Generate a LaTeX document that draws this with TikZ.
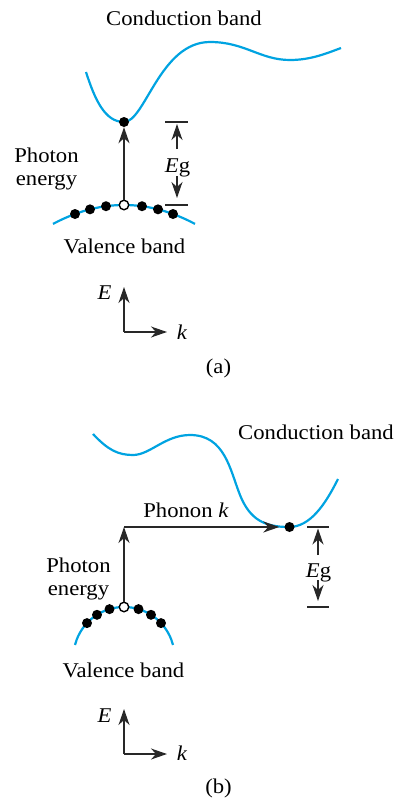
\documentclass[tikz,border=0pt]{standalone}
\usepackage{fontspec}
\setmainfont{Liberation Serif}[FakeStretch=1.08]
\usetikzlibrary{arrows.meta}
\definecolor{bandblue}{RGB}{0,163,225}
\definecolor{ink}{RGB}{40,40,40}
\begin{document}
\begin{tikzpicture}[x=1pt,y=-1pt,
  band/.style={bandblue,line width=2.2pt},
  arr/.style={ink,line width=1.5pt,-{Stealth[length=16pt,width=11pt,inset=5pt]}},
  bar/.style={ink,line width=1.5pt},
  lbl/.style={font=\fontsize{21}{23}\selectfont,inner sep=0pt,text=black},
  elec/.style={circle,fill=black,inner sep=0pt,minimum size=10pt},
  hole/.style={circle,draw=black,fill=white,line width=1.4pt,inner sep=0pt,minimum size=9.5pt}]
\useasboundingbox (0,0) rectangle (396,800);

% ---------------- panel (a) ----------------
\node[lbl,anchor=base] (cba) at (184,26) {Conduction band};
\draw[band] (86,72) .. controls (95,100) and (105,122) .. (124,122)
  .. controls (145,122) and (160,42) .. (210,42)
  .. controls (245,42) and (260,60) .. (290,60)
  .. controls (310,60) and (325,54) .. (341,48);
\draw[band] plot[domain=-71:71,samples=60] ({124+\x},{205+0.00375*\x*\x});
\foreach \d [count=\i] in {-49,-34,-18,18,34,49}
  \node[elec] (va\i) at ({124+\d},{205+0.00375*\d*\d}) {};
\node[elec] (ca) at (124,122) {};
\node[hole] (ha) at (124,205) {};
\draw[arr] (ha) -- (ca);
% Eg (a)
\coordinate (ta1) at (165,122); \coordinate (ta2) at (188,122);
\coordinate (ba1) at (165,205); \coordinate (ba2) at (188,205);
\draw[bar] (ta1) -- (ta2);
\draw[bar] (ba1) -- (ba2);
\node[lbl,anchor=base] (ega) at (177.5,172) {\textit{E}g};
\coordinate (egau0) at (177,149); \coordinate (egau1) at (177,124);
\coordinate (egad0) at (177,176); \coordinate (egad1) at (177,198);
\draw[arr] (egau0) -- (egau1);
\draw[arr] (egad0) -- (egad1);
\node[lbl,align=center] (pea) at (46.5,169) {Photon\\energy};
\node[lbl,anchor=base] (vba) at (124.5,253.5) {Valence band};
% axes (a)
\coordinate (oa) at (124,332); \coordinate (oay) at (124,287); \coordinate (oax) at (167,332);
\draw[arr] (oa) -- (oay);
\draw[arr] (oa) -- (oax);
\node[lbl,anchor=base] (Ea) at (104.5,299) {\textit{E}};
\node[lbl,anchor=base] (ka) at (182,339) {\textit{k}};
\node[lbl,anchor=base] (capa) at (218.5,373) {(a)};

% ---------------- panel (b) ----------------
\node[lbl,anchor=base] (cbb) at (316,439) {Conduction band};
\draw[band] (93,434) .. controls (108,450) and (118,455) .. (133,455)
  .. controls (150,455) and (165,435) .. (190,435)
  .. controls (225,435) and (230,470) .. (240,495)
  .. controls (250,520) and (265,527) .. (289,527)
  .. controls (310,527) and (325,505) .. (338,479);
\draw[band] plot[domain=-49:49,samples=60] ({124+\x},{657.6-sqrt(2560.4-\x*\x)});
\foreach \d [count=\i] in {-37,-27,-14.5,14.5,27,37}
  \node[elec] (vb\i) at ({124+\d},{657.6-sqrt(2560.4-\d*\d)}) {};
\node[elec] (cb) at (289.5,527) {};
\node[hole] (hb) at (124,607) {};
\coordinate (kb) at (124,527);
\draw[arr] (hb) -- (kb);
\draw[arr,shorten >=5pt] (kb) -- (cb);
\node[lbl,anchor=base] (phk) at (186,517) {Phonon \textit{k}};
% Eg (b)
\coordinate (tb1) at (307,527); \coordinate (tb2) at (329,527);
\coordinate (bb1) at (307,607); \coordinate (bb2) at (329,607);
\draw[bar] (tb1) -- (tb2);
\draw[bar] (bb1) -- (bb2);
\node[lbl,anchor=base] (egb) at (318.5,577) {\textit{E}g};
\coordinate (egbu0) at (318,555); \coordinate (egbu1) at (318,528.5);
\coordinate (egbd0) at (318,580); \coordinate (egbd1) at (318,601);
\draw[arr] (egbu0) -- (egbu1);
\draw[arr] (egbd0) -- (egbd1);
\node[lbl,align=center] (peb) at (78.5,578.6) {Photon\\energy};
\node[lbl,anchor=base] (vbb) at (123.5,677) {Valence band};
% axes (b)
\coordinate (ob) at (124,754); \coordinate (oby) at (124,709); \coordinate (obx) at (167,754);
\draw[arr] (ob) -- (oby);
\draw[arr] (ob) -- (obx);
\node[lbl,anchor=base] (Eb) at (104.5,722) {\textit{E}};
\node[lbl,anchor=base] (kb2) at (182,760) {\textit{k}};
\node[lbl,anchor=base] (capb) at (218.5,793) {(b)};
\end{tikzpicture}
\end{document}
